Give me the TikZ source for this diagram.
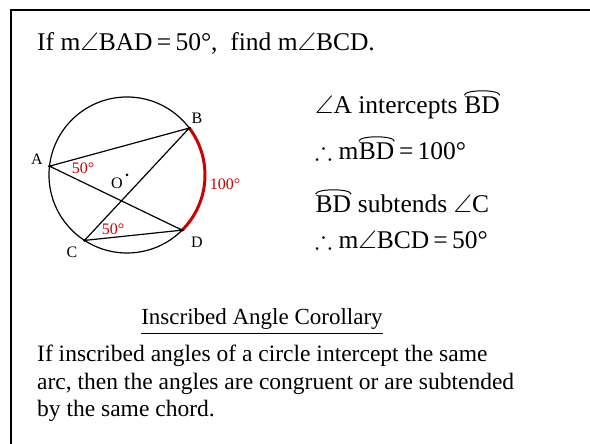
\documentclass[tikz,border=0pt]{standalone}
\usepackage{fontspec}
\setmainfont{Liberation Serif}
\usepackage{amssymb}
\usetikzlibrary{positioning}
\definecolor{arcred}{RGB}{204,0,0}
\definecolor{ink}{RGB}{0,0,0}
\newcommand\arcover[1]{\tikz[baseline=(w.base)]{\node[inner sep=0pt,outer sep=0pt,anchor=base] (w) {#1};
  \draw[line width=1pt] ([yshift=2pt]w.north west) .. controls ([yshift=8pt]w.north west) and ([yshift=8pt]w.north east) .. ([yshift=2pt]w.north east);}}
\tikzset{
  stmt/.style={anchor=base west,inner sep=0pt,text=ink,font=\fontsize{25.5}{30}\selectfont},
  para/.style={anchor=base west,inner sep=0pt,text=ink,font=\fontsize{23.5}{28}\selectfont},
  lbl/.style={inner sep=0pt,text=ink,font=\fontsize{16}{18}\selectfont},
  deg/.style={lbl,text=arcred},
  chord/.style={draw=ink,line width=1.2pt},
  frame/.style={draw=ink,line width=2pt},
  vertex/.style={circle,fill=ink,inner sep=0pt,minimum size=3pt},
}
\begin{document}
\begin{tikzpicture}[x=1pt,y=1pt]
  \useasboundingbox (0,0) rectangle (590,444);
  \draw[frame] (11,0) -- (11,434) -- (590,434);
  \node[stmt] (ask) at (37,393) {If m$\angle$BAD\,=\,50°, \ find m$\angle$BCD.};
  % circle and chords
  \coordinate (O) at (127,269);
  \foreach \n/\a in {A/173.5,B/37,C/237,D/-45}
    \coordinate (\n) at ([shift={(\a:78)}]O);
  \draw[chord] (O) circle (78);
  \draw[arcred,line width=3pt] (B) arc[start angle=37,end angle=-45,radius=78];
  \draw[chord] (B) -- (A) -- (D) -- (C) -- cycle;
  \foreach \n in {A,B,C,D,O} \node[vertex] at (\n) {};
  \node[lbl] (lA) at (37,285) {A};
  \node[lbl] (lB) at (197,326) {B};
  \node[lbl] (lC) at (72,192) {C};
  \node[lbl] (lD) at (197,202) {D};
  \node[lbl] (lO) at (117,261) {O};
  \node[deg] (aA) at (83,276) {50°};
  \node[deg] (aC) at (113,215) {50°};
  \node[deg] (arcBD) at (225,260) {100°};
  % reasoning
  \node[stmt] (s1) at (315,330) {$\angle$A intercepts \arcover{BD}};
  \node[stmt] (s2) at (315,284) {$\therefore$ m\arcover{BD}\,=\,100°};
  \node[stmt] (s3) at (315,231) {\arcover{BD} subtends $\angle$C};
  \node[stmt] (s4) at (315,195) {$\therefore$ m$\angle$BCD\,=\,50°};
  \node[para,anchor=base,font=\fontsize{23}{28}\selectfont] (head) at (262,119) {\underline{Inscribed Angle Corollary}};
  \foreach \y/\t in {82/If inscribed angles of a circle intercept the same,
      54/{arc, then the angles are congruent or are subtended},
      27/by the same chord.}
    \node[para] (rule\y) at (37,\y) {\t};
\end{tikzpicture}
\end{document}
